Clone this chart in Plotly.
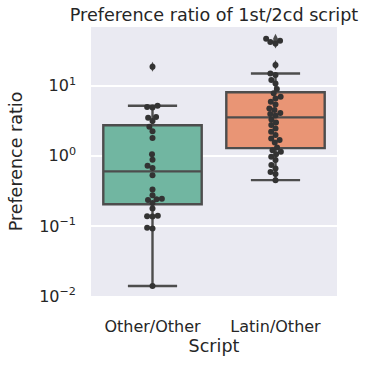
import numpy as np
import plotly.graph_objects as go

# ---------------- data ----------------
categories = ["Other/Other", "Latin/Other"]

other_other = [18.7, 5.2, 5.0, 4.9, 3.6, 3.5, 3.15, 2.6, 2.25, 1.8, 1.05, 0.88,
               0.72, 0.67, 0.53, 0.33, 0.275, 0.245, 0.24, 0.235, 0.213, 0.177,
               0.14, 0.138, 0.136, 0.094, 0.092, 0.0139]

latin_other = [47, 44, 42, 40, 19.8, 15.0, 14.2, 12.1, 10.8, 9.0, 7.8, 6.97,
               6.6, 5.9, 5.4, 4.75, 4.5, 4.1, 3.95, 3.78, 3.3, 3.0, 2.75, 2.46,
               2.2, 1.98, 1.77, 1.68, 1.55, 1.32, 1.2, 1.14, 1.05, 0.97, 0.87,
               0.74, 0.66, 0.59, 0.55, 0.45]

y_tick_vals = [0.01, 0.1, 1, 10]
y_tick_text = ["10<sup>−2</sup>", "10<sup>−1</sup>", "10<sup>0</sup>", "10<sup>1</sup>"]

title_text = "Preference ratio of 1st/2cd script"
x_title = "Script"
y_title = "Preference ratio"

# ---------------- styles ----------------
box_colors = ["#71b6a1", "#e99575"]
line_color = "#4d4d4d"
dot_color = "#333333"
text_color = "#262626"
font_family = "DejaVu Sans"

W, H = 369, 365
margin = dict(l=91, r=32, t=27, b=69)
y_range = [-2, 1.839]
plot_h = H - margin["t"] - margin["b"]
plot_w = W - margin["l"] - margin["r"]
px_per_decade = plot_h / (y_range[1] - y_range[0])
px_per_cat = plot_w / 2.0
dot_d = 5.4


def swarm_offsets(values):
    ys = np.log10(np.asarray(values, float)) * px_per_decade
    order = np.argsort(ys, kind="stable")
    placed = []
    offs = np.zeros(len(values))
    for i in order:
        y = ys[i]
        neigh = [(px, py) for px, py in placed if abs(py - y) < dot_d]
        cands = [0.0]
        for px, py in neigh:
            dx = np.sqrt(max(dot_d ** 2 - (py - y) ** 2, 0.0))
            cands += [px + dx, px - dx]
        cands.sort(key=lambda c: (round(abs(c), 6), c))
        for c in cands:
            if all((c - px) ** 2 + (y - py) ** 2 >= dot_d ** 2 - 1e-6 for px, py in neigh):
                offs[i] = c
                placed.append((c, y))
                break
    return offs / px_per_cat


fig = go.Figure()
groups = [other_other, latin_other]
for k, vals in enumerate(groups):
    v = np.asarray(vals, float)
    q1, med, q3 = np.percentile(v, [25, 50, 75])
    iqr = q3 - q1
    lo_f, hi_f = q1 - 1.5 * iqr, q3 + 1.5 * iqr
    inside = v[(v >= lo_f) & (v <= hi_f)]
    outl = v[(v < lo_f) | (v > hi_f)]
    fig.add_trace(go.Box(
        x=[k], q1=[q1], median=[med], q3=[q3],
        lowerfence=[inside.min()], upperfence=[inside.max()],
        width=0.8, whiskerwidth=0.5,
        fillcolor=box_colors[k], line=dict(color=line_color, width=2.4),
        showlegend=False, hoverinfo="skip"))
    if len(outl):
        fig.add_trace(go.Scatter(
            x=[k] * len(outl), y=outl, mode="markers",
            marker=dict(symbol="diamond-tall", size=7, color=line_color),
            showlegend=False, hoverinfo="skip"))
    fig.add_trace(go.Scatter(
        x=k + swarm_offsets(v), y=v, mode="markers",
        marker=dict(size=6, color=dot_color, line=dict(width=0)),
        showlegend=False, hoverinfo="skip"))

fig.update_layout(
    width=W, height=H, margin=margin,
    paper_bgcolor="white", plot_bgcolor="#EAEAF2",
    font=dict(family=font_family, size=16, color=text_color),
    title=dict(text=title_text, x=(margin["l"] + plot_w / 2) / W, xanchor="center",
               y=1 - 15 / H, yanchor="middle", yref="container",
               font=dict(size=17.6, color=text_color)),
)
fig.update_xaxes(range=[-0.5, 1.5], tickvals=[0, 1], ticktext=categories,
                 showgrid=False, zeroline=False, showline=False, ticks="",
                 ticklabelstandoff=19,
                 title=dict(text=x_title, font=dict(size=17.5), standoff=2))
fig.update_yaxes(type="log", range=y_range, tickvals=y_tick_vals, ticktext=y_tick_text,
                 showgrid=True, gridcolor="white", gridwidth=2, zeroline=False,
                 showline=False, ticks="", ticklabelstandoff=14,
                 title=dict(text=y_title, font=dict(size=17.5), standoff=12))

fig.write_html("out.html", config={"displayModeBar": False},
               post_script="document.body.style.margin='0';")
